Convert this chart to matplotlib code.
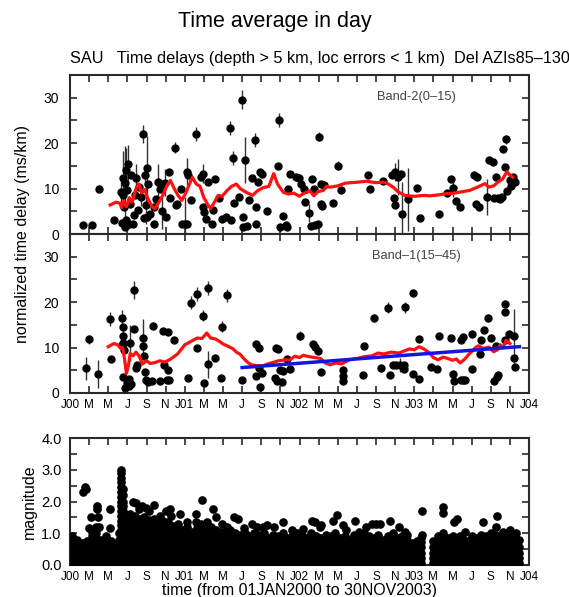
import matplotlib
matplotlib.use("Agg")
import matplotlib.pyplot as plt
import numpy as np

plt.rcParams['font.family'] = ['Liberation Sans', 'DejaVu Sans']

# ---------------- data (time in months since 01 JAN 2000) ----------------
tick_labels = ["J00", "M", "M", "J", "S", "N", "J01", "M", "M", "J", "S", "N",
               "J02", "M", "M", "J", "S", "N", "J03", "M", "M", "J", "S", "N", "J04"]

# Band-2 (0-15): time, delay, error half-length
b2_t = [1.4, 2.3, 3.0, 4.6, 5.3, 5.4, 5.5, 5.5, 5.6, 5.7, 5.8, 5.9, 5.9, 6.0, 6.1, 6.2, 6.3, 6.4, 6.6, 6.7,
        6.8, 6.95, 7.1, 7.2, 7.4, 7.6, 7.7, 7.8, 7.9, 8.0, 8.1, 8.2, 8.4, 8.8, 8.8, 9.0, 9.2, 9.4, 9.6, 9.7,
        9.9, 10.0, 10.4, 10.5, 11.0, 11.1, 11.2, 11.6, 11.7, 12.0, 12.2, 12.3, 12.2, 12.7, 13.2, 13.7, 13.9, 13.9, 14.0, 14.2,
        14.4, 14.9, 15.2, 15.0, 15.6, 15.9, 16.3, 16.7, 16.8, 17.0, 17.2, 17.7, 18.0, 18.1, 18.1, 18.3, 18.5, 18.7, 19.0, 19.3,
        19.4, 19.5, 19.7, 19.9, 20.1, 20.6, 21.8, 21.9, 22.0, 22.3, 22.6, 22.7, 22.8, 23.0, 23.6, 23.9, 24.2, 24.5, 24.6, 25.0,
        25.3, 25.2, 25.5, 25.6, 25.9, 26.0, 26.2, 26.3, 26.4, 26.6, 27.5, 28.0, 28.3, 31.2, 31.4, 32.7, 33.7, 33.9, 34.0, 34.0,
        34.3, 34.6, 34.7, 35.3, 36.3, 36.6, 38.6, 39.4, 39.8, 40.1, 40.4, 40.8, 42.3, 42.6, 42.5, 42.8, 43.6, 43.8, 44.2, 44.3,
        44.5, 44.8, 45.0, 45.2, 45.3, 45.6, 45.5, 45.7, 46.0, 46.1, 46.3, 46.5]
b2_v = [2.0, 2.0, 10.0, 3.0, 9.2, 2.5, 12.3, 8.5, 5.9, 1.5, 11.3, 14.0, 3.0, 9.6, 15.5, 2.2, 6.5, 13.0, 2.2, 4.2,
        8.5, 12.3, 5.3, 10.4, 8.2, 22.0, 3.5, 13.0, 6.3, 3.7, 14.5, 11.1, 4.5, 2.3, 6.0, 7.8, 11.5, 9.8, 5.0, 10.9,
        11.3, 3.7, 13.6, 8.0, 19.0, 6.3, 6.7, 9.8, 2.2, 2.2, 13.7, 13.0, 2.3, 7.5, 22.0, 12.6, 13.3, 6.0, 4.8, 3.2,
        11.5, 2.2, 12.0, 5.3, 8.0, 3.3, 3.7, 23.4, 3.0, 16.7, 6.8, 8.1, 29.6, 3.7, 1.5, 16.3, 1.8, 7.5, 12.3, 20.7,
        2.2, 6.0, 11.5, 13.6, 13.3, 5.1, 15.0, 25.1, 1.5, 4.0, 2.0, 1.5, 9.8, 13.3, 12.6, 12.3, 11.0, 10.0, 7.0, 4.6,
        12.0, 1.7, 10.0, 2.0, 2.3, 21.4, 6.5, 11.0, 6.2, 10.8, 6.8, 15.0, 9.7, 12.9, 9.9, 11.6, 13.0, 7.9, 6.3, 13.7,
        12.5, 13.2, 4.4, 7.6, 10.2, 3.6, 4.4, 9.0, 12.0, 10.2, 7.2, 6.0, 13.0, 12.5, 6.7, 6.0, 8.2, 16.2, 15.8, 8.0,
        12.5, 8.0, 7.8, 8.2, 18.7, 20.9, 14.8, 9.5, 11.9, 10.5, 12.5, 11.4]
b2_e = [0, 0, 0.8, 0, 3, 0, 6, 0, 0, 0, 8, 5, 0, 0, 4, 0, 0, 0, 0, 0,
        0, 3, 0, 0, 2, 2, 0, 2, 4, 0, 7, 0, 0, 0, 0, 0, 4, 0, 4, 0,
        3, 0, 0, 0, 1.2, 0, 0, 0, 0, 6, 3, 0, 0, 0, 1.5, 0, 2, 0, 0, 0,
        0, 0, 0, 0, 0, 0, 0, 1.5, 0, 1.5, 0, 0, 2, 0, 0, 5, 0, 0, 0, 1.5,
        0, 0, 0, 0, 0, 0, 0, 1.5, 0, 0, 0, 0, 0, 0, 0, 0, 0, 0, 0, 2,
        0, 0, 0, 0, 0, 1, 0, 0, 0, 0, 0, 1, 0, 0, 0, 0, 0, 0, 0, 2,
        4, 0, 7, 7, 0, 0, 0, 0, 0, 2, 0, 0, 0, 0, 0, 0, 4, 0, 0, 0,
        0, 0, 0, 0, 0, 1, 0, 0, 0, 0, 0, 0]

b2_avg_t = [4.2, 4.8, 5.2, 5.4, 5.6, 5.9, 6.2, 6.5, 6.9, 7.2, 7.5, 7.8, 8.2, 8.6, 8.9, 9.3, 9.7, 10.1, 10.5, 10.9,
            11.3, 11.7, 12.1, 12.5, 12.8, 13.2, 13.6, 14.0, 14.4, 14.7, 15.1, 15.5, 15.9, 16.4, 16.9, 17.4, 17.8, 18.4, 19.1, 19.6,
            20.2, 20.8, 21.3, 21.7, 22.3, 22.8, 23.4, 24.0, 24.4, 24.8, 25.1, 25.5, 25.9, 26.5, 26.8, 27.2, 28.0, 28.8, 30.0, 31.0,
            32.0, 32.8, 33.3, 33.8, 34.3, 35.0, 36.0, 37.0, 37.6, 38.5, 39.4, 40.2, 41.0, 41.8, 42.6, 43.4, 43.8, 44.3, 44.8, 45.2,
            45.7, 46.0, 46.3]
b2_avg_v = [6.4, 7.0, 6.8, 5.8, 7.2, 6.0, 8.0, 7.0, 10.0, 11.0, 9.0, 9.8, 7.5, 6.0, 5.6, 7.0, 8.5, 10.5, 11.8, 10.0,
            8.5, 7.4, 9.0, 11.0, 12.5, 11.0, 10.5, 8.0, 6.5, 5.6, 7.0, 8.5, 8.3, 9.5, 10.5, 11.0, 10.0, 9.2, 8.5, 9.5,
            10.2, 10.5, 13.3, 11.0, 9.2, 8.8, 9.0, 8.3, 8.9, 9.2, 9.5, 8.4, 9.3, 9.6, 10.5, 10.3, 10.6, 11.2, 11.4, 11.6,
            11.3, 11.4, 11.0, 10.3, 9.3, 8.5, 8.3, 8.5, 8.4, 8.6, 8.9, 9.0, 9.3, 9.6, 10.3, 11.1, 10.3, 10.6, 11.5, 12.0,
            13.7, 13.0, 12.5]

# Band-1 (15-45)
b1_t = [1.7, 2.0, 2.9, 4.2, 4.3, 5.4, 5.5, 5.5, 5.55, 5.6, 5.45, 5.5, 5.75, 6.0, 6.15, 6.2, 6.3, 6.4, 6.7, 6.7,
        7.0, 6.9, 7.6, 7.65, 7.7, 7.85, 7.95, 8.2, 8.7, 8.6, 9.4, 9.76, 10.2, 9.8, 10.2, 10.1, 10.4, 10.9, 12.3, 12.7,
        13.3, 13.3, 13.9, 14.4, 14.4, 14.0, 15.2, 15.8, 15.9, 16.4, 18.0, 19.5, 19.8, 19.75, 19.4, 19.9, 20.1, 21.5, 21.8, 22.0,
        22.3, 21.4, 21.6, 22.2, 22.7, 23.0, 24.0, 25.4, 25.6, 25.9, 26.3, 28.6, 28.5, 28.5, 30.6, 30.7, 31.8, 32.5, 33.3, 33.5,
        33.8, 34.1, 34.5, 34.9, 35.0, 34.9, 35.9, 35.9, 36.5, 36.5, 37.8, 38.4, 38.6, 39.8, 40.0, 40.2, 40.9, 41.1, 41.3, 40.9,
        41.1, 42.0, 42.0, 42.9, 43.0, 43.3, 43.7, 44.0, 44.3, 44.6, 44.8, 44.7, 45.5, 45.45, 45.5, 45.9, 46.4, 46.4, 46.5]
b1_v = [5.4, 11.8, 4.2, 16.3, 7.4, 16.4, 14.6, 12.5, 10.9, 9.4, 10.5, 3.6, 1.0, 2.3, 1.6, 3.1, 11.0, 2.0, 22.7, 14.0,
        6.2, 5.5, 12.2, 10.3, 8.1, 4.6, 2.8, 2.5, 14.8, 2.6, 2.6, 13.6, 13.5, 6.2, 5.1, 2.8, 2.8, 11.7, 3.2, 19.9,
        21.8, 9.9, 17.0, 23.1, 6.3, 2.2, 7.6, 3.4, 14.6, 21.5, 2.9, 10.8, 9.8, 5.4, 3.7, 1.4, 4.5, 9.8, 9.7, 5.0,
        4.9, 3.3, 2.7, 2.5, 7.5, 5.3, 12.6, 10.8, 10.2, 9.3, 4.6, 5.0, 2.7, 3.7, 4.0, 10.3, 16.5, 5.4, 18.8, 3.9,
        6.1, 6.1, 6.1, 6.1, 18.9, 5.2, 22.1, 4.1, 11.8, 3.0, 5.8, 5.3, 12.6, 12.0, 4.1, 2.7, 2.9, 2.9, 2.9, 11.6,
        12.3, 12.9, 5.3, 8.6, 11.7, 13.9, 16.5, 12.0, 2.7, 10.3, 4.0, 3.5, 19.7, 17.8, 11.6, 13.0, 12.5, 7.6, 5.7]
b1_e = [2.6, 1.0, 3.0, 1.5, 0, 1.8, 0, 2, 0, 0, 0, 0, 0, 0, 0, 0, 4, 0, 2, 0,
        0, 0, 4, 0, 0, 0, 0, 0, 0.8, 0, 0, 0, 0, 0, 0, 0, 0, 0, 0, 1.5,
        1.5, 0, 1.2, 1.5, 3, 0, 0, 0, 1.2, 1.5, 0, 0, 0, 0, 0, 0, 0, 0, 0, 0,
        0, 0, 0, 0, 0, 0, 1, 0, 0, 0, 0, 0, 0, 0, 0, 0, 0.8, 0, 1.2, 0,
        0, 0, 1.5, 0, 1.2, 0, 0.8, 0, 0, 0, 0, 0, 0, 0, 0, 0, 0, 0, 0, 0,
        0, 0, 0, 0, 0, 0, 0.8, 0, 0, 0, 0, 0, 0.8, 0, 0, 0, 6, 0, 0]

b1_avg_t = [4.0, 4.6, 5.0, 5.3, 5.5, 5.7, 5.9, 6.1, 6.3, 6.6, 6.9, 7.2, 7.6, 8.0, 8.4, 8.9, 9.4, 9.9, 10.4, 11.2,
            11.6, 12.0, 12.6, 13.3, 13.8, 14.3, 14.7, 15.2, 15.6, 16.0, 16.5, 17.0, 17.4, 17.8, 18.2, 18.6, 19.0, 19.6, 20.2, 20.8,
            21.2, 21.8, 22.6, 23.0, 23.5, 24.0, 24.4, 25.0, 25.6, 26.2, 26.7, 27.2, 27.8, 28.4, 29.2, 30.0, 30.8, 31.6, 32.2, 32.8,
            33.6, 34.4, 35.0, 35.5, 36.0, 36.5, 37.0, 37.6, 38.0, 38.5, 39.0, 39.5, 40.0, 40.4, 40.8, 41.3, 41.7, 42.0, 42.4, 42.7,
            43.2, 43.8, 44.3, 44.7, 45.0, 45.3, 45.6, 46.0]
b1_avg_v = [10.2, 10.9, 10.6, 9.8, 10.0, 7.5, 4.3, 6.0, 8.7, 8.2, 9.0, 8.2, 6.4, 7.1, 6.5, 6.7, 7.1, 6.8, 7.3, 8.5,
            9.5, 10.6, 11.3, 12.1, 12.0, 13.2, 12.1, 11.9, 11.4, 10.8, 10.3, 9.8, 9.0, 8.5, 7.5, 6.7, 6.2, 6.0, 6.0, 6.5,
            6.7, 7.1, 7.3, 7.3, 8.1, 7.8, 8.3, 8.0, 7.8, 7.6, 6.6, 6.2, 6.6, 6.4, 7.3, 7.6, 8.0, 8.2, 8.8, 8.6,
            9.0, 8.8, 9.3, 9.7, 9.5, 10.2, 9.7, 8.8, 7.8, 7.3, 7.9, 7.6, 7.2, 7.5, 6.6, 7.5, 8.5, 9.1, 10.0, 10.4,
            9.8, 10.1, 9.1, 9.5, 10.6, 10.0, 11.6, 10.9]

b1_trend_t = [18.0, 47.0]
b1_trend_v = [5.6, 10.2]

# magnitudes: columns of events [time, mag, mag, ...]
mag_cols = [
    [0.25, 0.05, 0.22, 0.39, 0.56, 0.73, 0.9],
    [0.75, 0.05, 0.22, 0.45, 0.62, 0.8],
    [1.25, 0.1, 0.3, 0.5, 0.7],
    [1.75, 0.05, 0.22, 0.42, 0.6, 0.75],
    [2.25, 0.05, 0.22, 0.39, 0.56, 0.73, 0.9, 1.05],
    [2.75, 0.05, 0.25, 0.45, 0.65, 0.85, 1.0, 1.2],
    [3.25, 0.05, 0.22, 0.39, 0.6, 0.8],
    [3.75, 0.1, 0.3, 0.5, 0.7, 0.9],
    [4.25, 0.05, 0.22, 0.39, 0.56, 0.75],
    [4.75, 0.05, 0.25, 0.45, 0.6],
    [5.1, 0.05, 0.22, 0.4, 0.6, 0.8, 1.0],
    [5.35, 0.05, 0.2, 0.35, 0.5, 0.65, 0.8, 0.95, 1.1, 1.25, 1.4, 1.55, 1.7, 1.85, 2.0, 2.15, 2.3, 2.45, 2.6, 2.75, 2.9, 3.0],
    [5.55, 0.05, 0.2, 0.35, 0.5, 0.65, 0.8, 0.95, 1.1, 1.25, 1.4, 1.55, 1.7, 1.85, 2.0, 2.2, 2.4],
    [5.85, 0.05, 0.22, 0.39, 0.56, 0.73, 0.9, 1.07, 1.24, 1.41, 1.58],
    [6.25, 0.05, 0.22, 0.39, 0.56, 0.73, 0.9, 1.07, 1.24, 1.41, 1.6],
    [6.75, 0.05, 0.22, 0.39, 0.56, 0.73, 0.9, 1.07, 1.24, 1.41, 1.55],
    [7.25, 0.05, 0.22, 0.39, 0.56, 0.73, 0.9, 1.07, 1.24, 1.45],
    [7.75, 0.05, 0.22, 0.39, 0.56, 0.73, 0.9, 1.07, 1.24, 1.41, 1.52],
    [8.25, 0.05, 0.22, 0.39, 0.56, 0.73, 0.9, 1.07, 1.24, 1.42],
    [8.75, 0.05, 0.22, 0.39, 0.56, 0.73, 0.9, 1.07, 1.24, 1.45],
    [9.25, 0.05, 0.22, 0.39, 0.56, 0.73, 0.9, 1.07, 1.3],
    [9.75, 0.05, 0.22, 0.39, 0.56, 0.73, 0.9, 1.07, 1.24, 1.4],
    [10.25, 0.05, 0.22, 0.39, 0.56, 0.73, 0.9, 1.07, 1.24, 1.35],
    [10.75, 0.05, 0.22, 0.39, 0.56, 0.73, 0.9, 1.07, 1.24],
    [11.25, 0.05, 0.22, 0.39, 0.56, 0.73, 0.9, 1.07, 1.3],
    [11.75, 0.05, 0.22, 0.39, 0.56, 0.73, 0.9, 1.1],
    [12.25, 0.05, 0.22, 0.39, 0.56, 0.73, 0.9, 1.07, 1.2],
    [12.75, 0.05, 0.22, 0.39, 0.56, 0.73, 0.9, 1.05],
    [13.25, 0.05, 0.22, 0.39, 0.56, 0.73, 0.9, 1.07, 1.15],
    [13.75, 0.05, 0.22, 0.39, 0.56, 0.73, 0.9, 1.07, 1.28],
    [14.25, 0.05, 0.22, 0.39, 0.56, 0.73, 0.9, 1.1],
    [14.75, 0.05, 0.22, 0.39, 0.56, 0.73, 0.9, 1.07, 1.2],
    [15.25, 0.05, 0.22, 0.39, 0.56, 0.73, 0.9, 1.1],
    [15.75, 0.05, 0.22, 0.39, 0.56, 0.73, 0.9, 1.05],
    [16.25, 0.05, 0.22, 0.39, 0.56, 0.73, 0.9, 1.0],
    [16.75, 0.05, 0.22, 0.39, 0.56, 0.73, 0.9, 1.1],
    [17.25, 0.05, 0.22, 0.39, 0.56, 0.73, 0.9, 1.0],
    [17.75, 0.05, 0.22, 0.39, 0.56, 0.73, 0.95],
    [18.25, 0.05, 0.22, 0.39, 0.56, 0.73, 0.9, 1.0],
    [18.75, 0.05, 0.22, 0.39, 0.56, 0.73, 0.9],
    [19.25, 0.05, 0.22, 0.39, 0.56, 0.73, 0.9, 1.0],
    [19.75, 0.05, 0.22, 0.39, 0.56, 0.73, 0.95],
    [20.25, 0.05, 0.22, 0.39, 0.56, 0.73, 0.9, 1.0],
    [20.75, 0.05, 0.22, 0.39, 0.56, 0.73, 0.85],
    [21.25, 0.05, 0.22, 0.39, 0.56, 0.73, 0.95],
    [21.75, 0.05, 0.22, 0.39, 0.56, 0.73, 0.9],
    [22.25, 0.05, 0.22, 0.39, 0.56, 0.73, 0.9, 1.0],
    [22.75, 0.05, 0.22, 0.39, 0.56, 0.73, 0.85],
    [23.25, 0.05, 0.22, 0.39, 0.56, 0.73, 0.9],
    [23.75, 0.05, 0.22, 0.39, 0.56, 0.73, 0.9, 1.0],
    [24.25, 0.05, 0.22, 0.39, 0.56, 0.73, 0.95],
    [24.75, 0.05, 0.22, 0.39, 0.56, 0.73, 0.85],
    [25.25, 0.05, 0.22, 0.39, 0.56, 0.73, 0.9, 1.0],
    [25.75, 0.05, 0.22, 0.39, 0.56, 0.73, 0.9],
    [26.25, 0.05, 0.22, 0.39, 0.56, 0.73, 0.85],
    [26.75, 0.05, 0.22, 0.39, 0.56, 0.73, 0.95],
    [27.25, 0.05, 0.22, 0.39, 0.56, 0.73, 0.9],
    [27.75, 0.05, 0.22, 0.39, 0.56, 0.73, 0.9, 1.0],
    [28.25, 0.05, 0.22, 0.39, 0.56, 0.73, 0.85],
    [28.75, 0.05, 0.22, 0.39, 0.56, 0.73, 0.9],
    [29.25, 0.05, 0.22, 0.39, 0.56, 0.8],
    [29.75, 0.05, 0.22, 0.39, 0.56, 0.73, 0.95],
    [30.25, 0.05, 0.22, 0.39, 0.56, 0.73, 0.85],
    [30.75, 0.05, 0.22, 0.39, 0.56, 0.73, 0.9, 1.0],
    [31.25, 0.05, 0.22, 0.39, 0.56, 0.73, 0.9],
    [31.75, 0.05, 0.22, 0.39, 0.56, 0.73, 0.85],
    [32.25, 0.05, 0.22, 0.39, 0.56, 0.73, 0.95],
    [32.75, 0.05, 0.22, 0.39, 0.56, 0.8],
    [33.25, 0.05, 0.22, 0.39, 0.56, 0.73, 0.9],
    [33.75, 0.05, 0.22, 0.39, 0.56, 0.73, 0.9, 1.0],
    [34.25, 0.05, 0.22, 0.39, 0.56, 0.73, 0.85],
    [34.75, 0.05, 0.22, 0.39, 0.56, 0.73, 0.9],
    [35.25, 0.05, 0.22, 0.39, 0.56, 0.8],
    [35.75, 0.05, 0.22, 0.39, 0.56, 0.7],
    [36.25, 0.05, 0.22, 0.39, 0.56, 0.75],
    [36.7, 0.05, 0.22, 0.39, 0.56, 0.73, 0.85],
    [38.0, 0.05, 0.22, 0.39, 0.56, 0.75],
    [38.5, 0.05, 0.22, 0.39, 0.56, 0.73, 0.9],
    [39.0, 0.05, 0.22, 0.39, 0.56, 0.73, 0.9],
    [39.5, 0.05, 0.22, 0.39, 0.56, 0.73, 0.85],
    [40.0, 0.05, 0.22, 0.39, 0.56, 0.73, 0.9],
    [40.5, 0.05, 0.22, 0.39, 0.56, 0.8],
    [41.0, 0.05, 0.22, 0.39, 0.56, 0.73, 0.85],
    [41.5, 0.05, 0.22, 0.39, 0.56, 0.75],
    [42.0, 0.05, 0.22, 0.39, 0.56, 0.73, 0.9],
    [42.5, 0.05, 0.22, 0.39, 0.56, 0.73, 0.85],
    [43.0, 0.05, 0.22, 0.39, 0.56, 0.73, 0.95],
    [43.5, 0.05, 0.22, 0.39, 0.56, 0.73, 0.9],
    [44.0, 0.05, 0.22, 0.39, 0.56, 0.73, 0.9, 1.0],
    [44.5, 0.05, 0.22, 0.39, 0.56, 0.73, 0.95],
    [45.0, 0.05, 0.22, 0.39, 0.56, 0.73, 0.9],
    [45.5, 0.05, 0.22, 0.39, 0.56, 0.73, 0.9, 1.0],
    [46.0, 0.05, 0.22, 0.39, 0.56, 0.73, 0.95],
    [46.5, 0.05, 0.22, 0.39, 0.56, 0.73, 0.9],
    [47.0, 0.05, 0.22, 0.39, 0.56, 0.8],
]
mag_out_t = [1.4, 1.55, 1.7, 2.2, 2.8, 2.85, 2.9, 3.0, 4.2, 4.2, 2.0, 6.6, 6.9, 7.5, 7.9, 8.8, 7.2, 8.3, 9.4, 10.0,
             10.5, 10.6, 11.5, 12.2, 13.2, 13.2, 13.8, 14.3, 15.0, 15.3, 15.9, 16.4, 17.1, 17.6, 18.2, 19.0, 19.6, 20.2, 20.6, 21.3,
             22.3, 23.2, 24.4, 25.3, 25.6, 26.1, 26.3, 27.5, 27.9, 28.5, 28.9, 29.8, 30.2, 31.0, 31.6, 32.0, 32.4, 33.5, 34.4, 35.0,
             35.2, 36.8, 36.8, 39.0, 39.0, 39.0, 40.2, 40.5, 40.8, 41.3, 43.2, 44.7, 44.5, 45.3, 46.0, 46.6]
mag_out_v = [2.3, 2.45, 2.38, 1.5, 1.85, 1.75, 1.5, 1.2, 1.75, 1.15, 1.15, 2.0, 1.95, 1.85, 1.8, 1.9, 1.75, 1.7, 1.55, 1.7,
             1.75, 1.55, 1.6, 1.35, 1.6, 1.35, 2.04, 1.35, 1.75, 1.5, 1.3, 1.2, 1.5, 1.45, 1.15, 1.3, 1.2, 1.2, 1.25, 1.2,
             1.37, 1.1, 1.14, 1.39, 1.35, 1.2, 1.25, 1.38, 1.58, 1.25, 1.1, 1.40, 1.05, 1.2, 1.3, 1.3, 1.3, 1.40, 1.2, 1.05,
             0.95, 1.7, 0.95, 1.84, 1.65, 1.0, 1.35, 1.45, 0.9, 1.05, 1.37, 1.53, 1.2, 1.05, 1.1, 1.0]

# ---------------- figure ----------------
W, H = 569, 597
fig = plt.figure(figsize=(W / 100, H / 100), dpi=100)

def frac(l, t, r, b):
    return [l / W, (H - b) / H, (r - l) / W, (b - t) / H]

ax1 = fig.add_axes(frac(70, 75, 529, 234))
ax2 = fig.add_axes(frac(70, 234, 529, 393))
ax3 = fig.add_axes(frac(70, 438, 529, 565))

spine_c = '#2a2a2a'
tick_pos = list(range(0, 49, 2))

def style(ax):
    for s in ax.spines.values():
        s.set_color(spine_c)
        s.set_linewidth(1.5)
    ax.set_xlim(0, 48)
    ax.set_xticks(tick_pos)
    ax.tick_params(direction='in', length=5, width=1.2, top=True, right=True,
                   color=spine_c)
    ax.tick_params(axis='x', labelsize=8.5, pad=4)
    ax.tick_params(axis='y', pad=8)

for ax, t, v, e, at, av, lab in [
        (ax1, b2_t, b2_v, b2_e, b2_avg_t, b2_avg_v, "Band-2(0\u201315)"),
        (ax2, b1_t, b1_v, b1_e, b1_avg_t, b1_avg_v, "Band\u20131(15\u201345)")]:
    style(ax)
    ax.set_ylim(0, 35)
    ax.set_yticks(range(0, 36, 5))
    ax.set_yticklabels([str(k) if k % 10 == 0 else '' for k in range(0, 36, 5)], fontsize=10)
    ev = np.array(e)
    ax.vlines(np.array(t)[ev > 0], (np.array(v) - ev)[ev > 0], (np.array(v) + ev)[ev > 0],
              color='#333333', lw=1.0, zorder=2)
    ax.plot(t, v, 'o', color='black', ms=5, zorder=3)
    ax.plot(at, av, '-', color='#ff1010', lw=2.3, zorder=4)
    ax.text(0.755, 0.86, lab, transform=ax.transAxes, ha='center', va='center',
            fontsize=9.3, color='#444444')

ax1.set_xticklabels([])
ax2.set_xticklabels(tick_labels)
ax2.plot(b1_trend_t, b1_trend_v, '-', color='#1515e0', lw=2.5, zorder=5)

style(ax3)
ax3.tick_params(axis='y', pad=6)
ax3.set_ylim(0, 4)
ax3.set_yticks(np.arange(0, 4.01, 0.5))
ax3.set_yticklabels(['%.1f' % k if abs(k - round(k)) < 1e-6 else '' for k in np.arange(0, 4.01, 0.5)], fontsize=10.5)
ax3.set_xticklabels(tick_labels)
mt, mv = [], []
for col in mag_cols:
    for val in col[1:]:
        mt.append(col[0])
        mv.append(val)
ax3.plot(mt, mv, 'o', color='black', ms=5.2, zorder=3)
ax3.plot(mag_out_t, mag_out_v, 'o', color='black', ms=5.2, zorder=3)
ax3.set_ylabel('magnitude', fontsize=11.5, labelpad=3)
ax3.set_xlabel('time (from 01JAN2000 to 30NOV2003)', fontsize=11.5, labelpad=0)

fig.text(0.040, (H - 234) / H, 'normalized time delay (ms/km)', rotation=90,
         ha='center', va='center', fontsize=11.5)
fig.text(275 / W, 1 - 22 / H, 'Time average in day', ha='center', va='center', fontsize=15.5)
fig.text(70 / W, 1 - 58 / H, 'SAU   Time delays (depth > 5 km, loc errors < 1 km)  Del AZIs85\u2013130',
         ha='left', va='center', fontsize=11.7)

fig.savefig('out.png', dpi=100)
